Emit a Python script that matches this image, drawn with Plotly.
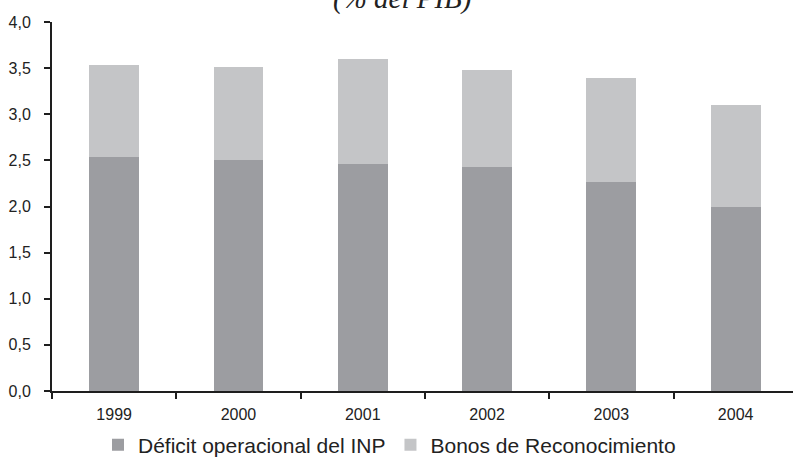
import plotly.graph_objects as go

# Pension system cost, % of GDP
years = ["1999", "2000", "2001", "2002", "2003", "2004"]
deficit_inp = [2.54, 2.50, 2.46, 2.43, 2.27, 1.99]
bonos_reconocimiento = [0.99, 1.01, 1.14, 1.05, 1.12, 1.11]
y_ticks = [0.0, 0.5, 1.0, 1.5, 2.0, 2.5, 3.0, 3.5, 4.0]
y_tick_text = [f"{v:.1f}".replace(".", ",") for v in y_ticks]

DARK = "#9c9da1"
LIGHT = "#c4c5c7"
AXIS = "#1e1e1e"
FONT = "Liberation Sans, Arial, sans-serif"

fig = go.Figure()
fig.add_trace(go.Bar(
    x=years, y=deficit_inp, name="Déficit operacional del INP",
    marker=dict(color=DARK, line=dict(width=0)),
))
fig.add_trace(go.Bar(
    x=years, y=bonos_reconocimiento, name="Bonos de Reconocimiento",
    marker=dict(color=LIGHT, line=dict(width=0)),
))

W, H = 793, 459
L, R, T, B = 52, 0, 22, 68
plot_w = W - L - R
cat_px = 124.3

fig.update_layout(
    width=W, height=H,
    margin=dict(l=L, r=R, t=T, b=B, autoexpand=False),
    barmode="stack",
    bargap=0.6,
    plot_bgcolor="white",
    paper_bgcolor="white",
    font=dict(family=FONT, size=16, color="#222222"),
    showlegend=True,
    legend=dict(
        orientation="h",
        xref="container", yref="container",
        x=98 / W, xanchor="left",
        y=(H - 445) / H, yanchor="middle",
        font=dict(size=21, color="#222222"),
        traceorder="normal",
        itemsizing="constant",
    ),
    xaxis=dict(
        type="category",
        automargin=False,
        range=[-0.5, -0.5 + plot_w / cat_px],
        showline=True, linecolor=AXIS, linewidth=2,
        ticks="outside", tickson="boundaries", ticklen=6, tickwidth=2, tickcolor=AXIS,
        ticklabelstandoff=8,
        showgrid=False, zeroline=False,
        tickfont=dict(size=16, color="#222222"),
    ),
    yaxis=dict(
        range=[0, 4.0],
        automargin=False,
        tickvals=y_ticks, ticktext=y_tick_text,
        showline=True, linecolor=AXIS, linewidth=2,
        ticks="outside", ticklen=6, tickwidth=2, tickcolor=AXIS,
        ticklabelstandoff=10,
        showgrid=False, zeroline=False,
        tickfont=dict(size=16, color="#222222"),
    ),
    annotations=[dict(
        text="(% del PIB)",
        xref="paper", yref="paper",
        x=(402.5 - L) / plot_w, y=(391 - 17) / 369,
        xanchor="center", yanchor="bottom",
        showarrow=False,
        font=dict(family="Liberation Serif, Times New Roman, serif", size=29,
                  color="#222222", style="italic"),
    )],
)

fig.write_html("out.html")
